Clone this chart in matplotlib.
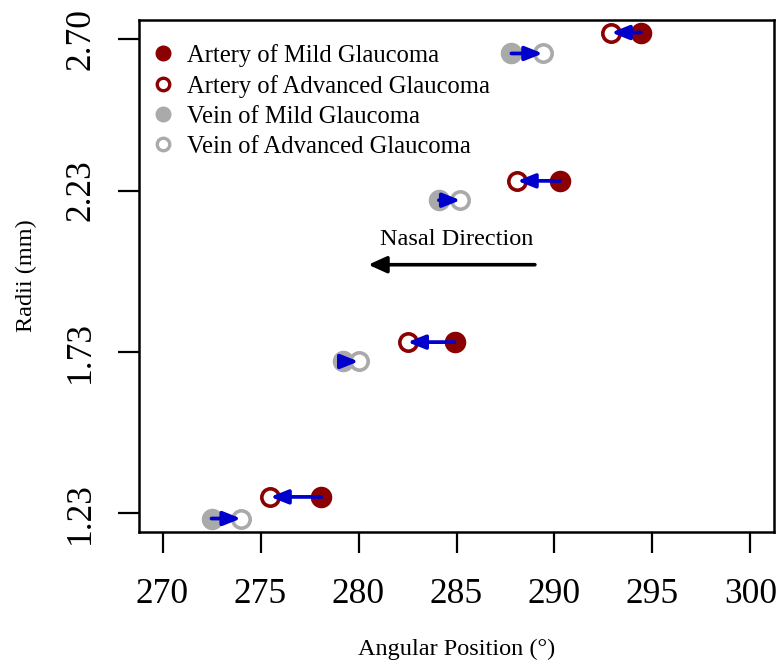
import numpy as np
import matplotlib.pyplot as plt
from matplotlib.lines import Line2D

plt.rcParams['font.family'] = ['Liberation Serif', 'DejaVu Serif']

# angular position (deg) and radii (mm)
art_mild_x = [294.4, 290.3, 284.9, 278.1]
art_mild_y = [2.72, 2.26, 1.76, 1.28]
art_adv_x = [292.9, 288.1, 282.5, 275.5]
art_adv_y = [2.72, 2.26, 1.76, 1.28]
vein_mild_x = [287.8, 284.1, 279.2, 272.5]
vein_mild_y = [2.655, 2.20, 1.70, 1.213]
vein_adv_x = [289.4, 285.2, 280.0, 274.0]
vein_adv_y = [2.655, 2.20, 1.70, 1.213]

xticks = [270, 275, 280, 285, 290, 295, 300]
yticks = [1.23, 1.73, 2.23, 2.70]
ytick_labels = ['1.23', '1.73', '2.23', '2.70']

dred = '#8B0000'
grey = '#AAAAAA'
blue = '#0000CD'

fig = plt.figure(figsize=(7.78, 6.69), dpi=100)
ax = fig.add_axes([139/778, 137/669, 635/778, 512/669])

ms = 14.5
ax.plot(art_mild_x, art_mild_y, 'o', ms=ms, color=dred, mec=dred, zorder=2)
ax.plot(art_adv_x, art_adv_y, 'o', ms=ms - 2, mfc='white', mec=dred, mew=2.6, zorder=2)
ax.plot(vein_mild_x, vein_mild_y, 'o', ms=ms, color=grey, mec=grey, zorder=2)
ax.plot(vein_adv_x, vein_adv_y, 'o', ms=ms - 2, mfc='white', mec=grey, mew=2.6, zorder=2)

# change arrows mild -> advanced
for xs, ys, xe, ye in list(zip(art_mild_x, art_mild_y, art_adv_x, art_adv_y)) + \
        list(zip(vein_mild_x, vein_mild_y, vein_adv_x, vein_adv_y)):
    ax.annotate('', xy=(xe, ye), xytext=(xs, ys),
                arrowprops=dict(arrowstyle='-|>,head_length=1.05,head_width=0.42',
                                color=blue, lw=2.7, shrinkA=0, shrinkB=0),
                zorder=3)

# nasal direction
ax.annotate('', xy=(280.5, 2.0), xytext=(289.0, 2.0),
            arrowprops=dict(arrowstyle='-|>,head_length=1.1,head_width=0.5',
                            color='black', lw=2.6, shrinkA=0, shrinkB=0))
ax.text(285, 2.078, 'Nasal Direction', ha='center', va='center', fontsize=17.5)

ax.set_xlim(268.8, 301.2)
ax.set_ylim(1.1712, 2.7588)
ax.set_xticks(xticks)
ax.set_xticklabels([str(t) for t in xticks], fontsize=25.5)
ax.set_yticks(yticks)
ax.set_yticklabels(ytick_labels, fontsize=25.5, rotation=90, va='center')
ax.tick_params(axis='both', direction='out', length=15, width=1.6)
ax.tick_params(axis='x', pad=18)
ax.tick_params(axis='y', pad=15)
for s in ax.spines.values():
    s.set_linewidth(1.8)

ax.set_xlabel('Angular Position (°)', fontsize=17.5, labelpad=20)
ax.set_ylabel('Radii (mm)', fontsize=17.5, labelpad=20)

handles = [
    Line2D([], [], ls='', marker='o', ms=10.5, color=dred),
    Line2D([], [], ls='', marker='o', ms=9, mfc='white', mec=dred, mew=2.4),
    Line2D([], [], ls='', marker='o', ms=10.5, color=grey),
    Line2D([], [], ls='', marker='o', ms=9, mfc='white', mec=grey, mew=2.4),
]
labels = ['Artery of Mild Glaucoma', 'Artery of Advanced Glaucoma',
          'Vein of Mild Glaucoma', 'Vein of Advanced Glaucoma']
ax.legend(handles, labels, loc='upper left', frameon=False, fontsize=17.7,
          handlelength=1.0, handletextpad=0.45, labelspacing=0.32,
          borderpad=0, borderaxespad=0, bbox_to_anchor=(0.0189, 0.953))

fig.savefig('out.png', dpi=100)
